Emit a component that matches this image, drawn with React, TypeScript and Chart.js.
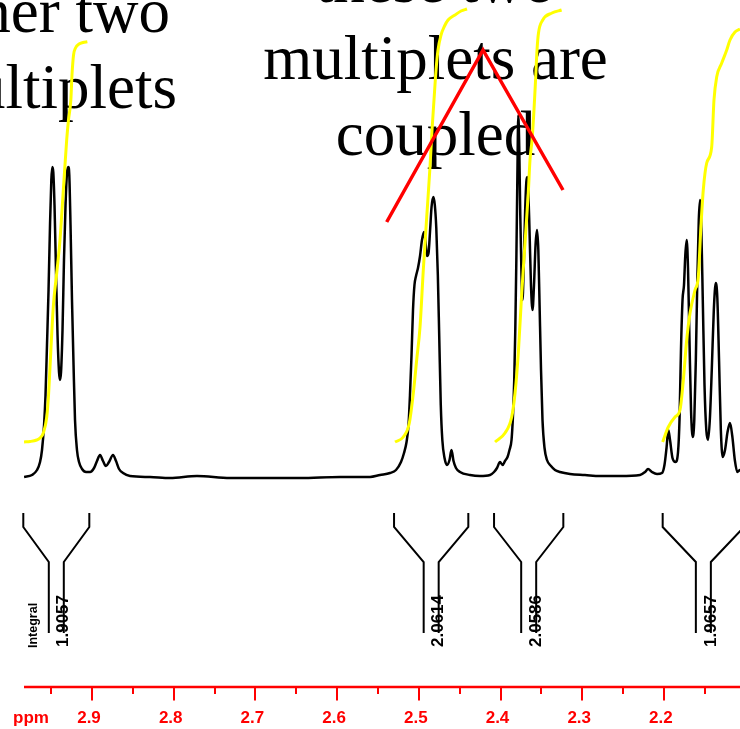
import React, { useEffect, useRef } from 'react';
import { Chart, registerables } from 'chart.js';

Chart.register(...registerables);

// ---------- DATA ----------
const spectrumPpm = [
  2.9832, 2.9734, 2.9673, 2.9636, 2.9612, 2.9587, 2.9569, 2.9551, 2.9532, 2.9514, 2.9498, 2.9486, 2.9474, 2.9459,
  2.9441, 2.9422, 2.9404, 2.9392, 2.9379, 2.9361, 2.9343, 2.9324, 2.9306, 2.929, 2.9278, 2.9263, 2.9245, 2.9226,
  2.9208, 2.9184, 2.9159, 2.9122, 2.9073, 2.9024, 2.8975, 2.8939, 2.8902, 2.8865, 2.8829, 2.8792, 2.8743, 2.8706,
  2.8669, 2.862, 2.8535,
  2.829, 2.8045, 2.7715, 2.7311, 2.6944, 2.6454, 2.5964, 2.5597,
  2.5475, 2.5352, 2.5279, 2.5218, 2.5181, 2.515, 2.5126, 2.5108, 2.5089, 2.5071, 2.5053, 2.5034, 2.501, 2.4985,
  2.4961, 2.4936, 2.4918, 2.49, 2.4881, 2.4863, 2.4844, 2.4822, 2.4804, 2.4786, 2.4767, 2.4749, 2.4731, 2.4712,
  2.4685, 2.4655, 2.4624, 2.46, 2.4575, 2.4545, 2.4496, 2.4373, 2.4251, 2.4128,
  2.4079, 2.4043, 2.4006, 2.3975, 2.3945, 2.3914, 2.389, 2.3865, 2.3847, 2.3832, 2.3819, 2.3806, 2.3794, 2.3782,
  2.377, 2.3758, 2.3743, 2.3731, 2.3715, 2.3698, 2.3684, 2.3672, 2.366, 2.3645, 2.3627, 2.3608, 2.359, 2.3571,
  2.3553, 2.3537, 2.3523, 2.3504, 2.3486, 2.3461, 2.3431, 2.3382, 2.3333, 2.3272, 2.3149, 2.2966, 2.2782, 2.2537,
  2.2292,
  2.2231, 2.2194, 2.2146, 2.2084, 2.2023, 2.1993, 2.1968, 2.1946, 2.1925, 2.1895, 2.1858, 2.1827, 2.1809, 2.1791,
  2.1772, 2.1754, 2.1738, 2.1721, 2.1705, 2.1687, 2.1668, 2.1647, 2.1628, 2.1609, 2.1591, 2.1573, 2.1558, 2.1542,
  2.1524, 2.1503, 2.1481, 2.146, 2.1438, 2.1414, 2.1389, 2.1365, 2.1346, 2.1325, 2.1303, 2.128, 2.1252, 2.1221,
  2.1191, 2.1163, 2.1132, 2.1101, 2.1068, 2.1019,
];
const spectrumIntensity = [
  0, 2, 7, 15, 27, 52, 82, 132, 187, 252, 297, 310, 305, 272,
  207, 142, 105, 97, 105, 147, 217, 272, 304, 310, 302, 252, 177, 112,
  57, 27, 15, 8, 5, 5, 9, 16, 22, 16, 11, 15, 22, 16,
  8, 4, 1,
  0, -1, 1, -1, -1, -1, 0, 0,
  2, 4, 7, 15, 24, 35, 52, 82, 122, 167, 192, 201, 209, 221,
  237, 245, 235, 221, 224, 245, 270, 280, 272, 249, 202, 137, 72, 37,
  19, 12, 17, 27, 16, 9, 5, 2, 1, 2,
  5, 9, 15, 12, 16, 20, 27, 37, 62, 97, 147, 217, 297, 362,
  327, 262, 202, 177, 212, 267, 295, 300, 287, 247, 192, 167, 192, 232,
  247, 227, 177, 107, 57, 29, 17, 11, 7, 5, 3, 2, 1, 1,
  2,
  5, 8, 5, 3, 4, 12, 29, 47, 37, 19, 15, 25, 57, 127,
  177, 192, 222, 237, 209, 137, 67, 40, 57, 117, 197, 257, 277, 249,
  177, 92, 47, 37, 57, 107, 167, 194, 179, 117, 47, 20, 27, 45,
  54, 41, 17, 5, 7, 4,
];

const integral1Ppm = [2.9832, 2.9759, 2.9677, 2.9636, 2.9596, 2.9554, 2.9532, 2.9514, 2.9474, 2.9432, 2.9392, 2.9351, 2.931, 2.9288, 2.9259, 2.9245, 2.9226, 2.9202, 2.9159, 2.911, 2.9057];
const integral1Value = [0, 0.5, 2, 4, 9, 25, 47, 75, 135, 169, 202, 252, 302, 322, 342, 367, 387, 394, 398, 399.5, 400.3];
const integral2Ppm = [2.5291, 2.519, 2.5116, 2.5067, 2.5026, 2.4985, 2.4945, 2.4903, 2.4863, 2.4838, 2.4814, 2.4789, 2.4765, 2.4728, 2.4685, 2.4642, 2.4557, 2.4483, 2.441];
const integral2Value = [0, 5, 19, 49, 82, 115, 172, 225, 275, 312, 342, 372, 392, 407, 416, 422, 427, 431, 433];
const integral3Ppm = [2.4067, 2.3945, 2.3863, 2.3822, 2.3782, 2.374, 2.37, 2.366, 2.3639, 2.3614, 2.359, 2.3571, 2.3553, 2.3535, 2.3483, 2.337, 2.3252];
const integral3Value = [0, 9, 25, 49, 89, 149, 199, 249, 282, 302, 332, 362, 392, 409, 422, 429, 432];
const integral4Ppm = [2.2015, 2.1946, 2.1864, 2.1803, 2.1762, 2.1721, 2.168, 2.1619, 2.1579, 2.1549, 2.1518, 2.1476, 2.1415, 2.1387, 2.1354, 2.1292, 2.1231, 2.1191, 2.113, 2.1068];
const integral4Value = [0, 15, 25, 32, 62, 102, 129, 152, 165, 212, 252, 279, 295, 342, 365, 379, 392, 402, 410, 413];

const couplingPpm = [2.5393, 2.4214, 2.3235];
const couplingLevel = [255, 427, 287];

const integralFrom = [2.9841, 2.5303, 2.4079, 2.2015];
const integralTo = [2.9033, 2.4394, 2.3231, 2.1019];
const integralLabels = ['1.9057', '2.0614', '2.0586', '1.9657'];

const majorTicks = [2.9, 2.8, 2.7, 2.6, 2.5, 2.4, 2.3, 2.2];
const minorTicks = [2.95, 2.85, 2.75, 2.65, 2.55, 2.45, 2.35, 2.25, 2.15];
const tickLabels = ['2.9', '2.8', '2.7', '2.6', '2.5', '2.4', '2.3', '2.2'];
const axisUnit = 'ppm';

const noteLeft = ['the other two', 'multiplets'];
const noteRight = ['these two', 'multiplets are', 'coupled'];

// ---------- HELPERS ----------
const pts = (xs: number[], ys: number[]) => xs.map((x, i) => ({ x, y: ys[i] }));

const overlayPlugin = {
  id: 'nmrOverlay',
  beforeDatasetsDraw(chart: any) {
    const ctx = chart.ctx as CanvasRenderingContext2D;
    ctx.save();
    ctx.fillStyle = '#000000';
    ctx.font = '63px "Liberation Serif", "Times New Roman", serif';
    ctx.textBaseline = 'alphabetic';
    ctx.textAlign = 'center';
    noteRight.forEach((t, i) => ctx.fillText(t, 435.5, 2 + i * 76.5));
    ctx.textAlign = 'right';
    ctx.fillText(noteLeft[0], 170, 31.5);
    ctx.fillText(noteLeft[1], 177, 108);
    ctx.restore();
  },
  afterDatasetsDraw(chart: any) {
    const ctx = chart.ctx as CanvasRenderingContext2D;
    const xs = chart.scales.x;
    ctx.save();
    // integral brackets
    ctx.strokeStyle = '#000000';
    ctx.lineWidth = 2;
    ctx.lineJoin = 'miter';
    integralFrom.forEach((from, i) => {
      const xl = xs.getPixelForValue(from);
      const xr = xs.getPixelForValue(integralTo[i]);
      const xm = (xl + xr) / 2;
      const sl = xm - 7.5;
      const sr = xm + 7.5;
      ctx.beginPath();
      ctx.moveTo(xl, 513);
      ctx.lineTo(xl, 527);
      ctx.lineTo(sl, 562);
      ctx.lineTo(sl, 633);
      ctx.moveTo(xr, 513);
      ctx.lineTo(xr, 527);
      ctx.lineTo(sr, 562);
      ctx.lineTo(sr, 633);
      ctx.stroke();
      ctx.save();
      ctx.translate(sr, 647);
      ctx.rotate(-Math.PI / 2);
      ctx.fillStyle = '#000000';
      ctx.font = 'bold 17px "Liberation Sans", Arial, sans-serif';
      ctx.textAlign = 'left';
      ctx.textBaseline = 'middle';
      ctx.fillText(integralLabels[i], 0, 0);
      ctx.restore();
      if (i === 0) {
        ctx.save();
        ctx.translate(sl - 15, 648);
        ctx.rotate(-Math.PI / 2);
        ctx.fillStyle = '#000000';
        ctx.font = 'bold 12.5px "Liberation Sans", Arial, sans-serif';
        ctx.textAlign = 'left';
        ctx.textBaseline = 'middle';
        ctx.fillText('Integral', 0, 0);
        ctx.restore();
      }
    });
    // ppm axis
    const axisY = 687;
    ctx.strokeStyle = '#ff0000';
    ctx.fillStyle = '#ff0000';
    ctx.lineWidth = 2.5;
    ctx.beginPath();
    ctx.moveTo(chart.chartArea.left, axisY);
    ctx.lineTo(chart.chartArea.right, axisY);
    ctx.stroke();
    ctx.lineWidth = 2;
    ctx.beginPath();
    majorTicks.forEach((v) => {
      const px = Math.round(xs.getPixelForValue(v));
      ctx.moveTo(px, axisY);
      ctx.lineTo(px, axisY + 13.5);
    });
    minorTicks.forEach((v) => {
      const px = Math.round(xs.getPixelForValue(v));
      ctx.moveTo(px, axisY);
      ctx.lineTo(px, axisY + 7);
    });
    ctx.stroke();
    ctx.font = 'bold 17px "Liberation Sans", Arial, sans-serif';
    ctx.textAlign = 'center';
    ctx.textBaseline = 'middle';
    majorTicks.forEach((v, i) => {
      ctx.fillText(tickLabels[i], xs.getPixelForValue(v) - 3, 718);
    });
    ctx.fillText(axisUnit, 31, 718);
    ctx.restore();
  },
};

export default function App() {
  const canvasRef = useRef<HTMLCanvasElement | null>(null);

  useEffect(() => {
    if (!canvasRef.current) return;
    const yellow = {
      borderColor: '#ffff00',
      borderWidth: 3,
      pointRadius: 0,
      fill: false,
      cubicInterpolationMode: 'monotone' as const,
      yAxisID: 'yI',
    };
    const chart = new Chart(canvasRef.current, {
      type: 'line',
      data: {
        datasets: [
          {
            label: 'coupling',
            data: pts(couplingPpm, couplingLevel),
            borderColor: '#ff0000',
            borderWidth: 3.5,
            pointRadius: 0,
            tension: 0,
            yAxisID: 'y',
          },
          { label: 'int1', data: pts(integral1Ppm, integral1Value), ...yellow },
          { label: 'int2', data: pts(integral2Ppm, integral2Value), ...yellow },
          { label: 'int3', data: pts(integral3Ppm, integral3Value), ...yellow },
          { label: 'int4', data: pts(integral4Ppm, integral4Value), ...yellow },
          {
            label: 'spectrum',
            data: pts(spectrumPpm, spectrumIntensity),
            borderColor: '#000000',
            borderWidth: 2.5,
            pointRadius: 0,
            cubicInterpolationMode: 'monotone',
            yAxisID: 'y',
          },
        ],
      },
      options: {
        animation: false,
        responsive: false,
        devicePixelRatio: 1,
        layout: { padding: { left: 24, right: 0, top: 0, bottom: 0 } },
        plugins: {
          legend: { display: false },
          tooltip: { enabled: false },
          title: { display: false },
        },
        scales: {
          x: { type: 'linear', min: 2.10685, max: 2.98324, reverse: true, display: false },
          y: { type: 'linear', min: -252, max: 477, display: false },
          yI: { type: 'linear', min: -287, max: 442, display: false },
        },
      },
      plugins: [overlayPlugin],
    });
    return () => chart.destroy();
  }, []);

  return (
    <div style={{ position: 'absolute', left: 0, top: 0, width: 740, height: 729, background: '#ffffff' }}>
      <canvas ref={canvasRef} width={740} height={729} style={{ display: 'block', width: 740, height: 729 }} />
    </div>
  );
}
